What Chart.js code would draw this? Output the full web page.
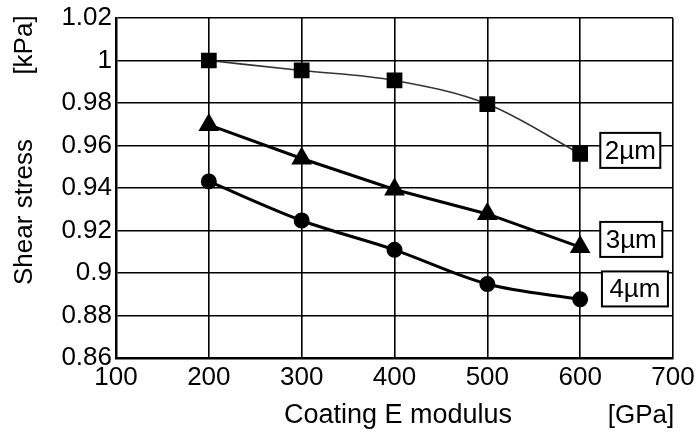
<!DOCTYPE html>
<html>
<head>
<meta charset="utf-8">
<script src="https://cdn.jsdelivr.net/npm/chart.js@4.4.0/dist/chart.umd.min.js"></script>
<style>
  html, body { margin: 0; padding: 0; background: #fff; }
  #wrap { width: 696px; height: 438px; position: relative; }
</style>
</head>
<body>
<div id="wrap"><canvas id="chart"></canvas></div>
<script>
const modulus = [200, 300, 400, 500, 600];
const stress2um = [1.0, 0.9953, 0.9906, 0.9795, 0.9561];
const stress3um = [0.9697, 0.9539, 0.9393, 0.9278, 0.9122];
const stress4um = [0.9431, 0.9247, 0.9109, 0.8948, 0.8876];
const seriesLabels = ['2\u00b5m', '3\u00b5m', '4\u00b5m'];
// centre of each series label box, in data units (GPa, kPa)
const labelAt = [[654, 0.9577], [655, 0.9158], [659, 0.8925]];
const labelBoxW = [60, 62, 66];

const font = 'Arial, "Liberation Sans", sans-serif';

const toPoints = ys => modulus.map((x, i) => ({ x: x, y: ys[i] }));

const boxLabels = {
    id: 'boxLabels',
    afterDatasetsDraw(chart) {
        const ctx = chart.ctx;
        const xs = chart.scales.x, ys = chart.scales.y;
        ctx.save();
        ctx.font = '26px ' + font;
        ctx.textAlign = 'center';
        ctx.textBaseline = 'middle';
        seriesLabels.forEach((txt, i) => {
            const cx = xs.getPixelForValue(labelAt[i][0]);
            const cy = ys.getPixelForValue(labelAt[i][1]);
            const w = labelBoxW[i], h = 35;
            ctx.fillStyle = '#fff';
            ctx.fillRect(cx - w / 2, cy - h / 2, w, h);
            ctx.lineWidth = 2;
            ctx.strokeStyle = '#000';
            ctx.strokeRect(cx - w / 2, cy - h / 2, w, h);
            ctx.fillStyle = '#000';
            ctx.fillText(txt, cx, cy + 1);
        });
        ctx.restore();
    }
};

const axisTitles = {
    id: 'axisTitles',
    afterDraw(chart) {
        const ctx = chart.ctx;
        ctx.save();
        ctx.fillStyle = '#000';
        ctx.font = '27px ' + font;
        ctx.textBaseline = 'middle';
        ctx.textAlign = 'center';
        ctx.fillText('Coating E modulus', 398, 416);
        ctx.font = '26px ' + font;
        ctx.fillText('[GPa]', 641, 416);
        ctx.translate(25, 0);
        ctx.rotate(-Math.PI / 2);
        ctx.fillText('Shear stress', -212, 0);
        ctx.fillText('[kPa]', -45, 0);
        ctx.restore();
    }
};

const common = {
    borderColor: '#000',
    backgroundColor: '#000',
    pointBackgroundColor: '#000',
    pointBorderColor: '#000',
    fill: false
};

new Chart(document.getElementById('chart'), {
    type: 'line',
    data: {
        datasets: [
            Object.assign({}, common, { label: seriesLabels[0], data: toPoints(stress2um), borderColor: '#333', borderWidth: 1.6, cubicInterpolationMode: 'monotone', pointStyle: 'rect', pointRadius: 10 }),
            Object.assign({}, common, { label: seriesLabels[1], data: toPoints(stress3um), borderWidth: 3, tension: 0, pointStyle: 'triangle', pointRadius: 9 }),
            Object.assign({}, common, { label: seriesLabels[2], data: toPoints(stress4um), borderWidth: 3, cubicInterpolationMode: 'monotone', pointStyle: 'circle', pointRadius: 6.5 })
        ]
    },
    options: {
        responsive: true,
        maintainAspectRatio: false,
        animation: false,
        layout: { padding: { top: 18, right: 23, left: 0, bottom: 0 } },
        plugins: {
            legend: { display: false },
            tooltip: { enabled: false }
        },
        scales: {
            x: {
                type: 'linear',
                min: 100,
                max: 700,
                ticks: { stepSize: 100, color: '#000', font: { family: font, size: 26 }, padding: 4 },
                grid: { color: '#000', lineWidth: 1.6, drawTicks: false },
                border: { color: '#000', width: 2.5 },
                afterFit: s => { s.height = 80; s.paddingLeft = 0; s.paddingRight = 0; }
            },
            y: {
                min: 0.86,
                max: 1.02,
                ticks: {
                    stepSize: 0.02, color: '#000', font: { family: font, size: 26 }, padding: 4,
                    callback: v => String(+v.toFixed(2))
                },
                grid: { color: '#000', lineWidth: 1.6, drawTicks: false },
                border: { color: '#000', width: 2.5 },
                afterFit: s => { s.width = 116; s.paddingTop = 0; s.paddingBottom = 0; }
            }
        }
    },
    plugins: [boxLabels, axisTitles]
});
</script>
</body>
</html>
